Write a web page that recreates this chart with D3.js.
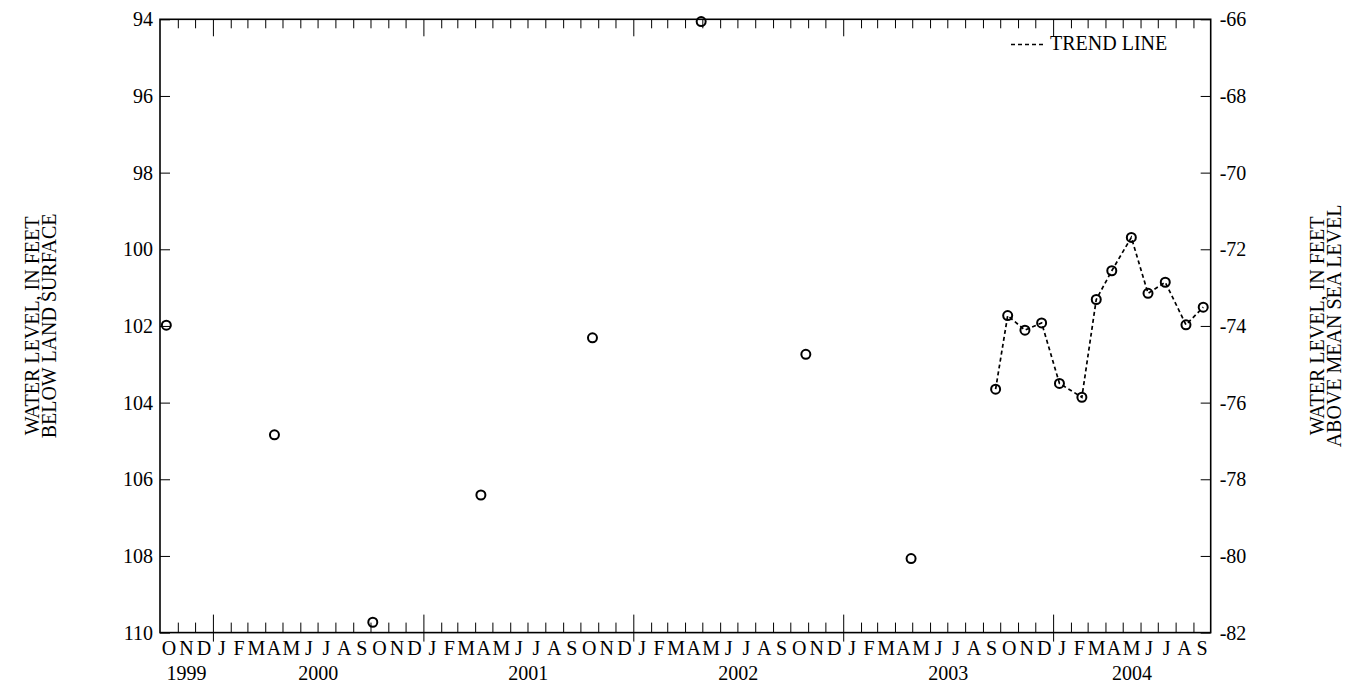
<!DOCTYPE html>
<html>
<head>
<meta charset="utf-8">
<script src="https://cdn.jsdelivr.net/npm/d3@7"></script>
<style>
  body { margin: 0; background: #fff; }
  svg text { font-family: "Liberation Serif", "Times New Roman", serif; }
  .frame { fill: none; stroke: #000; stroke-width: 1.6; }
  .tick line { stroke: #000; stroke-width: 1; }
  .domain { display: none; }
</style>
</head>
<body>
<svg id="chart" width="1359" height="685"></svg>
<script>
const pointDates = ["1999-10-12", "2000-04-17", "2000-10-05", "2001-04-11",
  "2001-10-22", "2002-04-29", "2002-10-28", "2003-04-29"];
const pointLevels = [101.98, 104.84, 109.73, 106.41, 102.31, 94.06, 102.74, 108.07];

const trendDates = ["2003-09-23", "2003-10-14", "2003-11-13", "2003-12-12", "2004-01-12",
  "2004-02-20", "2004-03-16", "2004-04-12", "2004-05-16", "2004-06-14",
  "2004-07-14", "2004-08-19", "2004-09-18"];
const trendLevels = [103.65, 101.73, 102.11, 101.92, 103.50, 103.86, 101.31, 100.56,
  99.69, 101.15, 100.86, 101.97, 101.51];

const leftTicks = [94, 96, 98, 100, 102, 104, 106, 108, 110];
const rightTicks = [-66, -68, -70, -72, -74, -76, -78, -80, -82];
const monthLetters = ["J", "F", "M", "A", "M", "J", "J", "A", "S", "O", "N", "D"];
const yearLabels = ["1999", "2000", "2001", "2002", "2003", "2004"];

const parse = d3.timeParse("%Y-%m-%d");
const start = new Date(1999, 9, 1), end = new Date(2004, 9, 1);
const fs = 20;

const svg = d3.select("#chart");
const mLeft = 160, mRight = 1210.7, mTop = 19.3, mBottom = 632.6;

const x = d3.scaleTime().domain([start, end]).range([mLeft, mRight]);
const y = d3.scaleLinear().domain([94, 110]).range([mTop, mBottom]);
const y2 = d3.scaleLinear().domain([-66, -82]).range([mTop, mBottom]);

const months = d3.timeMonth.range(start, end).slice(1);
const years = months.filter(d => d.getMonth() === 0);
const monthOnly = months.filter(d => d.getMonth() !== 0);

// --- month / year ticks on top and bottom ---
svg.append("g").attr("transform", `translate(0,${mTop})`)
  .call(d3.axisTop(x).tickValues(monthOnly).tickSize(-9).tickFormat(""));
svg.append("g").attr("transform", `translate(0,${mTop})`)
  .call(d3.axisTop(x).tickValues(years).tickSize(-17).tickFormat(""));
svg.append("g").attr("transform", `translate(0,${mBottom})`)
  .call(d3.axisBottom(x).tickValues(monthOnly).tickSize(-10).tickFormat(""));
const yb = svg.append("g").attr("transform", `translate(0,${mBottom})`)
  .call(d3.axisBottom(x).tickValues(years).tickSize(-18).tickFormat(""));
yb.selectAll(".tick line").attr("y2", 9).attr("y1", -18);

// month letters centred in each month
const allMonths = d3.timeMonth.range(start, end);
svg.append("g").selectAll("text").data(allMonths).join("text")
  .attr("x", d => (x(d) + x(d3.timeMonth.offset(d, 1))) / 2)
  .attr("y", 655)
  .attr("text-anchor", "middle")
  .attr("font-size", fs)
  .text(d => monthLetters[d.getMonth()]);

// year labels centred in the visible part of each year
svg.append("g").selectAll("text").data(yearLabels).join("text")
  .attr("x", d => {
    const a = d3.max([start, new Date(+d, 0, 1)]);
    const b = d3.min([end, new Date(+d + 1, 0, 1)]);
    return (x(a) + x(b)) / 2;
  })
  .attr("y", 680)
  .attr("text-anchor", "middle")
  .attr("font-size", fs)
  .text(d => d);

// --- left and right value axes ---
svg.append("g").attr("transform", `translate(${mLeft},0)`)
  .call(d3.axisLeft(y).tickValues(leftTicks).tickSize(-10).tickPadding(7).tickFormat(d => d))
  .attr("font-size", fs);
svg.append("g").attr("transform", `translate(${mRight},0)`)
  .call(d3.axisRight(y2).tickValues(rightTicks).tickSize(-10).tickPadding(9)
    .tickFormat(d => String(d)))
  .attr("font-size", fs);

svg.append("rect").attr("class", "frame")
  .attr("x", mLeft).attr("y", mTop)
  .attr("width", mRight - mLeft).attr("height", mBottom - mTop);

// --- axis titles ---
function title(cx, lines) {
  const t = svg.append("text")
    .attr("transform", `translate(${cx},${(mTop + mBottom) / 2}) rotate(-90)`)
    .attr("text-anchor", "middle").attr("font-size", fs);
  lines.forEach((s, i) => t.append("tspan").attr("x", 0).attr("y", i * 16.5).text(s));
}
title(39, ["WATER LEVEL, IN FEET", "BELOW LAND SURFACE"]);
title(1324, ["WATER LEVEL, IN FEET", "ABOVE MEAN SEA LEVEL"]);

// --- data marks ---
const pts = pointDates.map((d, i) => ({ date: parse(d), v: pointLevels[i] }));
const trend = trendDates.map((d, i) => ({ date: parse(d), v: trendLevels[i] }));

svg.append("path").datum(trend)
  .attr("fill", "none").attr("stroke", "#000").attr("stroke-width", 1.7)
  .attr("stroke-dasharray", "4,3")
  .attr("d", d3.line().x(d => x(d.date)).y(d => y(d.v)));

svg.append("g").selectAll("circle").data(pts.concat(trend)).join("circle")
  .attr("cx", d => x(d.date)).attr("cy", d => y(d.v)).attr("r", 4.5)
  .attr("fill", "none").attr("stroke", "#000").attr("stroke-width", 2);

// --- legend ---
svg.append("line").attr("x1", 1011).attr("x2", 1043).attr("y1", 44.5).attr("y2", 44.5)
  .attr("stroke", "#000").attr("stroke-width", 1.7).attr("stroke-dasharray", "4,3");
svg.append("text").attr("x", 1050).attr("y", 50).attr("font-size", fs).text("TREND LINE");
</script>
</body>
</html>
